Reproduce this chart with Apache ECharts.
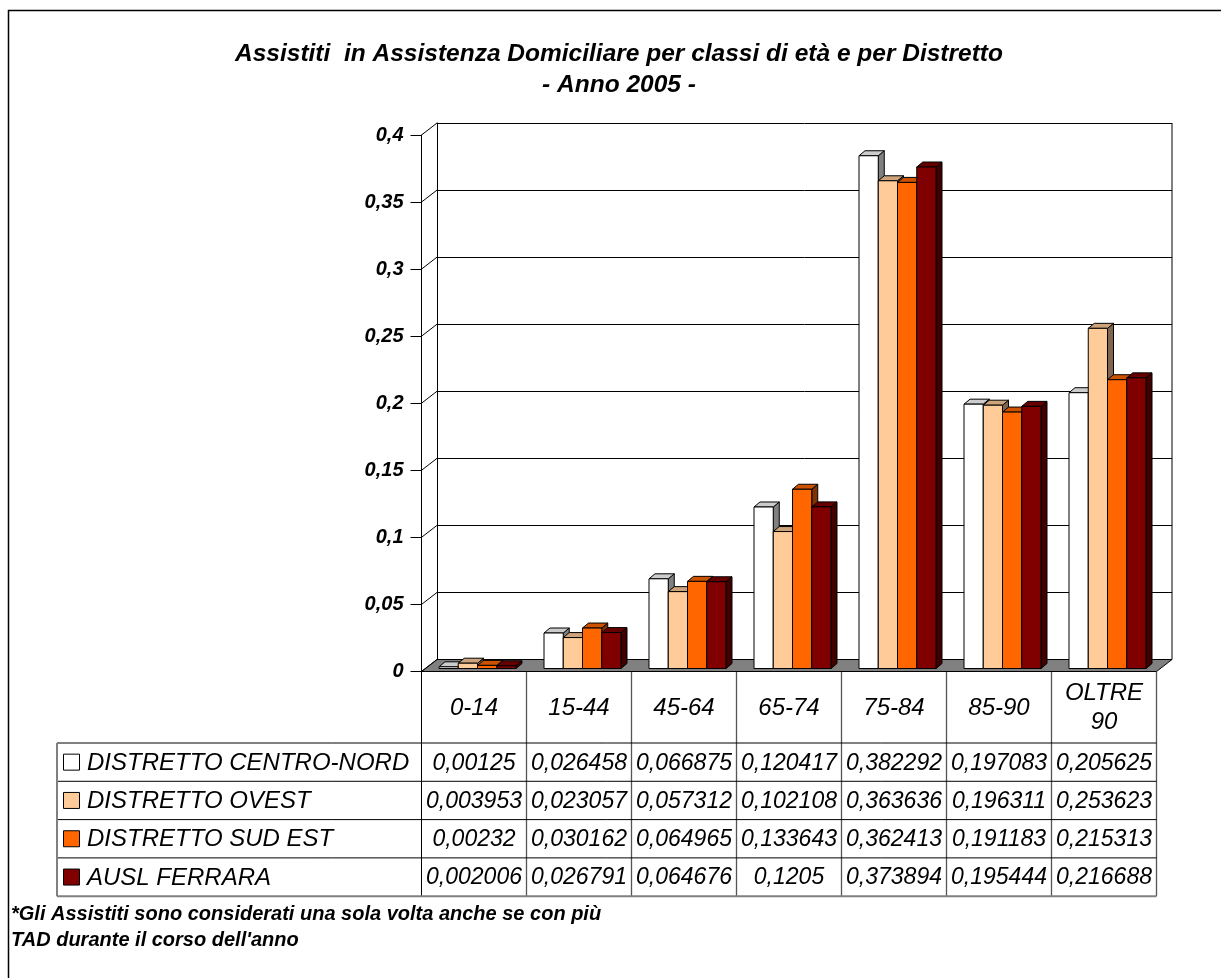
<!DOCTYPE html>
<html>
<head>
<meta charset="utf-8">
<script src="https://cdn.jsdelivr.net/npm/echarts@6/dist/echarts.min.js"></script>
<style>
  html, body { margin: 0; padding: 0; background: #ffffff; }
  #chart { width: 1221px; height: 978px; }
</style>
</head>
<body>
<div id="chart"></div>
<script>
// ---- data ----
const categories = ['0-14', '15-44', '45-64', '65-74', '75-84', '85-90', 'OLTRE\n90'];
const seriesNames = ['DISTRETTO CENTRO-NORD', 'DISTRETTO OVEST', 'DISTRETTO SUD EST', 'AUSL FERRARA'];
const centroNord  = [0.00125, 0.026458, 0.066875, 0.120417, 0.382292, 0.197083, 0.205625];
const ovest       = [0.003953, 0.023057, 0.057312, 0.102108, 0.363636, 0.196311, 0.253623];
const sudEst      = [0.00232, 0.030162, 0.064965, 0.133643, 0.362413, 0.191183, 0.215313];
const auslFerrara = [0.002006, 0.026791, 0.064676, 0.1205, 0.373894, 0.195444, 0.216688];
const yTicks = [0, 0.05, 0.1, 0.15, 0.2, 0.25, 0.3, 0.35, 0.4];

const titleLines = ['Assistiti  in Assistenza Domiciliare per classi di età e per Distretto', '- Anno 2005 -'];
const noteLines = ['*Gli Assistiti sono considerati una sola volta anche se con più', "TAD durante il corso dell'anno"];

const seriesValues = [centroNord, ovest, sudEst, auslFerrara];

// ---- styling ----
const FONT = '"Liberation Sans", Arial, sans-serif';
const frontColors = ['#FFFFFF', '#FFCC99', '#FF6600', '#800000'];
const topColors   = ['#CCCCCC', '#CCA37A', '#CC5200', '#660000'];
const sideColors  = ['#808080', '#806650', '#803300', '#400000'];

// front plane of the plot and the depth of the 3D box
const FRONT = { left: 421.5, top: 135, width: 735, height: 536.5 };
const DEPTH = { dx: 15.5, dy: -12 };
// bar depth and its placement inside the box
const BAR = { dx: 6, dy: -5, offX: 3.5, offY: -3, groupRatio: 77 / 105 };

const fmt = v => String(+v.toFixed(6)).replace('.', ',');

// ---- 3D bar renderer ----
function barRenderer(s) {
  return function (params, api) {
    const i = api.value(0), v = api.value(1);
    const base = api.coord([i, 0]);
    const tp = api.coord([i, v]);
    const bw = api.size([1, 0])[0] * BAR.groupRatio / 4;
    const x0 = base[0] - 2 * bw + s * bw + BAR.offX;
    const x1 = x0 + bw;
    const yb = base[1] + BAR.offY;
    const yt = tp[1] + BAR.offY;
    const dx = BAR.dx, dy = BAR.dy;
    const line = { stroke: '#000', lineWidth: 1 };
    return {
      type: 'group',
      children: [
        { type: 'polygon', shape: { points: [[x1, yb], [x1 + dx, yb + dy], [x1 + dx, yt + dy], [x1, yt]] },
          style: Object.assign({ fill: sideColors[s] }, line) },
        { type: 'polygon', shape: { points: [[x0, yt], [x1, yt], [x1 + dx, yt + dy], [x0 + dx, yt + dy]] },
          style: Object.assign({ fill: topColors[s] }, line) },
        { type: 'rect', shape: { x: x0, y: yt, width: bw, height: yb - yt },
          style: Object.assign({ fill: frontColors[s] }, line) }
      ]
    };
  };
}

// ---- floor, tick connectors and right wall edge ----
function boxRenderer(params, api) {
  const cs = params.coordSys;
  const x = cs.x, y = cs.y, w = cs.width, h = cs.height;
  const dx = DEPTH.dx, dy = DEPTH.dy;
  const children = [];
  children.push({
    type: 'line', shape: { x1: x + w + dx, y1: y + dy, x2: x + w + dx, y2: y + h + dy },
    style: { stroke: '#000', lineWidth: 1 }
  });
  children.push({
    type: 'polygon',
    shape: { points: [[x, y + h], [x + w, y + h], [x + w + dx, y + h + dy], [x + dx, y + h + dy]] },
    style: { fill: '#808080', stroke: '#000', lineWidth: 1 }
  });
  yTicks.forEach(t => {
    const p = api.coord([0, t]);
    children.push({
      type: 'line', shape: { x1: x, y1: p[1], x2: x + dx, y2: p[1] + dy },
      style: { stroke: '#000', lineWidth: 1 }
    });
  });
  return { type: 'group', children };
}

// ---- data table, title, note (graphic elements) ----
function txt(text, x, y, font, align, lineHeight) {
  const style = { text, font, fill: '#000', align: align, textAlign: align,
    verticalAlign: 'middle', textVerticalAlign: 'middle' };
  if (lineHeight) style.lineHeight = lineHeight;
  return { type: 'text', x, y, silent: true, style };
}
function ln(x1, y1, x2, y2, stroke, lw) {
  return { type: 'line', silent: true, shape: { x1, y1, x2, y2 }, style: { stroke, lineWidth: lw } };
}

const TABLE = {
  left: 57, catLeft: FRONT.left, colW: FRONT.width / categories.length,
  headTop: FRONT.top + FRONT.height, headBottom: 743, rowH: 38.3
};
const tableBottom = TABLE.headBottom + TABLE.rowH * seriesNames.length;
const tableRight = TABLE.catLeft + categories.length * TABLE.colW;
const valueFont = 'italic 23px ' + FONT;
const labelFont = 'italic 24px ' + FONT;
const boldFont = 'italic bold 20px ' + FONT;

const graphics = [];
// outer frame
graphics.push({ type: 'rect', silent: true, shape: { x: 8.5, y: 10.5, width: 1240, height: 1000 },
  style: { fill: null, stroke: '#000', lineWidth: 1.5 } });
// title
titleLines.forEach((t, k) => graphics.push(txt(t, 619, 54 + k * 31, 'italic bold 24.5px ' + FONT, 'center')));
// table grid
for (let k = 0; k <= categories.length; k++) {
  const x = TABLE.catLeft + k * TABLE.colW;
  graphics.push(ln(x, TABLE.headTop, x, tableBottom, k === 0 ? '#000' : '#555', k === 0 ? 1 : 1.3));
}
for (let r = 0; r < seriesNames.length; r++) {
  const y = TABLE.headBottom + r * TABLE.rowH;
  graphics.push(ln(TABLE.left, y, tableRight, y, '#000', 1));
}
graphics.push(ln(TABLE.left, tableBottom, tableRight, tableBottom, '#808080', 2));
graphics.push(ln(TABLE.left, TABLE.headBottom, TABLE.left, tableBottom, '#808080', 2));
// category header
categories.forEach((c, i) => {
  graphics.push(txt(c, TABLE.catLeft + TABLE.colW * (i + 0.5), (TABLE.headTop + TABLE.headBottom) / 2 + 1,
    labelFont, 'center', 29));
});
// series rows
seriesNames.forEach((name, s) => {
  const cy = TABLE.headBottom + TABLE.rowH * (s + 0.5);
  graphics.push({ type: 'rect', silent: true, shape: { x: 63.5, y: cy - 8, width: 16, height: 16 },
    style: { fill: frontColors[s], stroke: '#000', lineWidth: 1 } });
  graphics.push(txt(name, 87, cy + 1, labelFont, 'left'));
  seriesValues[s].forEach((v, i) => {
    graphics.push(txt(fmt(v), TABLE.catLeft + TABLE.colW * (i + 0.5), cy + 1, valueFont, 'center'));
  });
});
// note
noteLines.forEach((t, k) => graphics.push(txt(t, 11, 914 + k * 26, boldFont, 'left')));

// ---- chart ----
const chart = echarts.init(document.getElementById('chart'), null, { renderer: 'canvas' });
const backGrid = { left: FRONT.left + DEPTH.dx, top: FRONT.top + DEPTH.dy, width: FRONT.width, height: FRONT.height };

chart.setOption({
  animation: false,
  backgroundColor: '#ffffff',
  grid: [
    Object.assign({ containLabel: false }, FRONT),
    Object.assign({ containLabel: false }, backGrid)
  ],
  xAxis: [
    { type: 'category', gridIndex: 0, data: categories, boundaryGap: true,
      axisLine: { show: false }, axisTick: { show: false }, axisLabel: { show: false }, splitLine: { show: false } },
    { type: 'category', gridIndex: 1, data: categories, boundaryGap: true, show: false }
  ],
  yAxis: [
    { type: 'value', gridIndex: 0, min: 0, max: 0.4, interval: 0.05,
      axisLine: { show: true, lineStyle: { color: '#000', width: 1 } },
      axisTick: { show: true, inside: false, length: 11, lineStyle: { color: '#000', width: 1 } },
      axisLabel: { show: true, margin: 18, formatter: v => fmt(v),
        fontFamily: FONT, fontSize: 20, fontStyle: 'italic', fontWeight: 'bold', color: '#000' },
      splitLine: { show: false } },
    { type: 'value', gridIndex: 1, min: 0, max: 0.4, interval: 0.05,
      axisLine: { show: true, lineStyle: { color: '#000', width: 1 } },
      axisTick: { show: false }, axisLabel: { show: false },
      splitLine: { show: true, lineStyle: { color: '#000', width: 1 } } }
  ],
  series: [
    { type: 'custom', name: 'box', xAxisIndex: 0, yAxisIndex: 0, z: 1, silent: true,
      data: [[0, 0]], renderItem: boxRenderer }
  ].concat(seriesNames.map((name, s) => ({
    type: 'custom', name, xAxisIndex: 0, yAxisIndex: 0, z: 2 + s,
    data: seriesValues[s].map((v, i) => [i, v]),
    encode: { x: 0, y: 1 },
    renderItem: barRenderer(s)
  }))),
  graphic: graphics
});
</script>
</body>
</html>
